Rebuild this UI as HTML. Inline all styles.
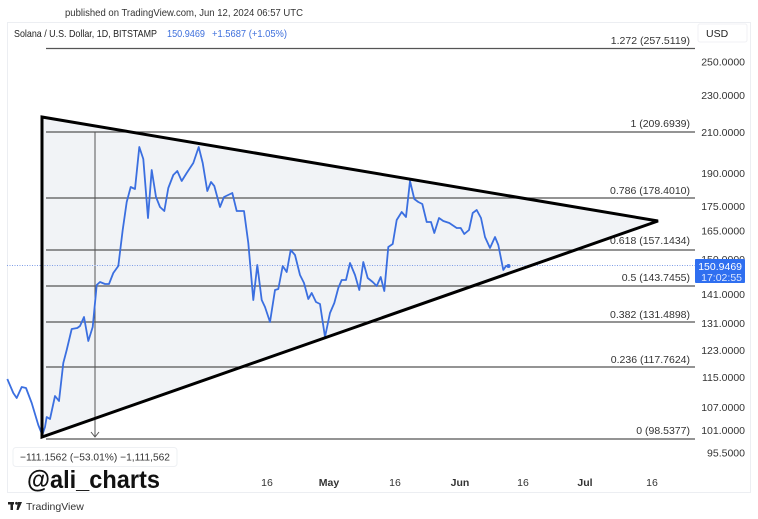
<!DOCTYPE html>
<html><head><meta charset="utf-8">
<style>
html,body{margin:0;padding:0;background:#fff;}
body{width:758px;height:519px;overflow:hidden;font-family:"Liberation Sans",Arial,sans-serif;}
svg{display:block;}
text{font-family:"Liberation Sans",Arial,sans-serif;}
</style></head>
<body>
<svg width="758" height="519" viewBox="0 0 758 519" xmlns="http://www.w3.org/2000/svg">
<rect x="0" y="0" width="758" height="519" fill="#fff"/>
<!-- header -->
<text x="65" y="16" font-size="10.5" fill="#333" textLength="238" lengthAdjust="spacingAndGlyphs">published on TradingView.com, Jun 12, 2024 06:57 UTC</text>
<!-- panel -->
<rect x="7.5" y="22.5" width="743" height="470" fill="#fff" stroke="#eceef2" stroke-width="1"/>
<text x="14" y="37" font-size="10.5" fill="#222" textLength="143" lengthAdjust="spacingAndGlyphs">Solana / U.S. Dollar, 1D, BITSTAMP</text>
<text x="167" y="37" font-size="10.5" fill="#3d6fdc" textLength="38" lengthAdjust="spacingAndGlyphs">150.9469</text>
<text x="212" y="37" font-size="10.5" fill="#3d6fdc" textLength="75" lengthAdjust="spacingAndGlyphs">+1.5687 (+1.05%)</text>

<!-- triangle fill -->
<polygon points="42,117 658,221 42,437" fill="#f1f3f6"/>

<!-- fib lines -->
<g stroke="#555" stroke-width="1.3">
<line x1="46" y1="48.5" x2="695" y2="48.5"/>
<line x1="46" y1="132" x2="695" y2="132"/>
<line x1="46" y1="198" x2="695" y2="198"/>
<line x1="46" y1="250" x2="695" y2="250"/>
<line x1="46" y1="286" x2="695" y2="286"/>
<line x1="46" y1="322" x2="695" y2="322"/>
<line x1="46" y1="367" x2="695" y2="367"/>
<line x1="46" y1="439" x2="695" y2="439"/>
</g>
<g font-size="10.5" fill="#333" text-anchor="end">
<text x="690" y="44">1.272 (257.5119)</text>
<text x="690" y="127">1 (209.6939)</text>
<text x="690" y="194">0.786 (178.4010)</text>
<text x="690" y="244">0.618 (157.1434)</text>
<text x="690" y="281">0.5 (143.7455)</text>
<text x="690" y="318">0.382 (131.4898)</text>
<text x="690" y="363">0.236 (117.7624)</text>
<text x="690" y="434">0 (98.5377)</text>
</g>

<!-- measurement vertical -->
<line x1="95" y1="132" x2="95" y2="437" stroke="#555" stroke-width="1"/>
<polyline points="91,432 95,437 99,432" fill="none" stroke="#555" stroke-width="1"/>

<!-- current price dotted -->
<line x1="7" y1="265.5" x2="695" y2="265.5" stroke="#7f9de6" stroke-width="1" stroke-dasharray="1,1.5"/>

<!-- series -->
<polyline fill="none" stroke="#3b6fe0" stroke-width="1.8" stroke-linejoin="round" points="7.3,379 13.3,393 16.7,398 21.7,387 26,388 31.7,403 38.3,425 42.3,435 45,427 46.7,417 50,419 55,396 59,401 63.3,363 66.7,350 71.7,329 77.3,328 80,326 84,317 88.3,341 92.7,327 96.7,285 100,282 105,284 109,284 113.3,273 118.3,266 122.7,230 126.7,202 130.7,187 135,189 139.3,147 143.3,159 148,218 151.7,170 156,197 160,207 164.3,211 168.3,188 173.3,175 177.3,171 181.7,181 186.7,173 193.3,163 198.7,147 202.7,163 207.3,191 211,182 214.3,186 220,207 224,197 232.3,193 236.7,211 244,211 248.3,243 253.3,300 257.3,265 261.7,300 265,307 270,322 275,290 278.3,289 282.7,266 286.7,272 290.7,250 295,255 300,275 304,283 308.3,299 311.7,293 316,302 320,304 325,337 330,313 334.3,303 338.3,288 341.7,280 346,280 350,263 355,275 359.3,290 363.3,262 367.7,278 372.7,282 376.7,286 380.7,277 384.3,291 388.3,247 392.7,244 396.7,220 401.7,212 406,217 410,181 414.3,199 418.3,202 422.3,204 426.7,222 431,222 434.3,233 439,218 443.3,221 449.3,223 456.7,228 460.7,228 464.3,234 469,230 472.7,213 476.7,210 481,218 485,237 490,248 495,237 498.3,245 503.3,270 506,266 508.3,266"/>
<circle cx="508.5" cy="266" r="2" fill="#3b6fe0"/>

<!-- triangle lines -->
<polygon points="42,117 658,221 42,437" fill="none" stroke="#000" stroke-width="3" stroke-linejoin="miter"/>

<!-- right axis -->
<rect x="698" y="24" width="49" height="18" rx="2" fill="#fff" stroke="#f0f1f4"/>
<text x="706" y="37" font-size="10.5" fill="#222">USD</text>
<g font-size="10.5" fill="#333" text-anchor="end">
<text x="745" y="65.5">250.0000</text>
<text x="745" y="99">230.0000</text>
<text x="745" y="136">210.0000</text>
<text x="745" y="177">190.0000</text>
<text x="745" y="210">175.0000</text>
<text x="745" y="234.5">165.0000</text>
<text x="745" y="263">150.0000</text>
<text x="745" y="298">141.0000</text>
<text x="745" y="327">131.0000</text>
<text x="745" y="354">123.0000</text>
<text x="745" y="381">115.0000</text>
<text x="745" y="411">107.0000</text>
<text x="745" y="434">101.0000</text>
<text x="745" y="456.5">95.5000</text>
</g>
<rect x="695" y="259" width="50" height="24" rx="1" fill="#2f6ff0"/>
<text x="742" y="270" font-size="10.5" fill="#fff" text-anchor="end">150.9469</text>
<text x="742" y="281" font-size="10.5" fill="#dce6ff" text-anchor="end">17:02:55</text>

<!-- time axis -->
<g font-size="10.5" fill="#333" text-anchor="middle">
<text x="267" y="486">16</text>
<text x="329" y="486" font-weight="bold">May</text>
<text x="395" y="486">16</text>
<text x="460" y="486" font-weight="bold">Jun</text>
<text x="523" y="486">16</text>
<text x="585" y="486" font-weight="bold">Jul</text>
<text x="652" y="486">16</text>
</g>

<!-- measure label -->
<rect x="13" y="447.5" width="164" height="19" rx="3" fill="#fff" stroke="#eef0f3"/>
<text x="20" y="460.5" font-size="10.5" fill="#333" textLength="150" lengthAdjust="spacingAndGlyphs">−111.1562 (−53.01%) −1,111,562</text>

<!-- watermark -->
<text x="27" y="488" font-size="25" font-weight="bold" fill="#111" textLength="133" lengthAdjust="spacingAndGlyphs">@ali_charts</text>

<!-- TradingView footer -->
<g fill="#222">
<rect x="8" y="502" width="6" height="2.5"/>
<rect x="10.5" y="502" width="2.5" height="8"/>
<circle cx="16.5" cy="503.3" r="1.4"/>
<polygon points="18,502 22,502 18.5,510 16.5,510"/>
</g>
<text x="26" y="510" font-size="10.5" fill="#333">TradingView</text>
</svg>
</body></html>
